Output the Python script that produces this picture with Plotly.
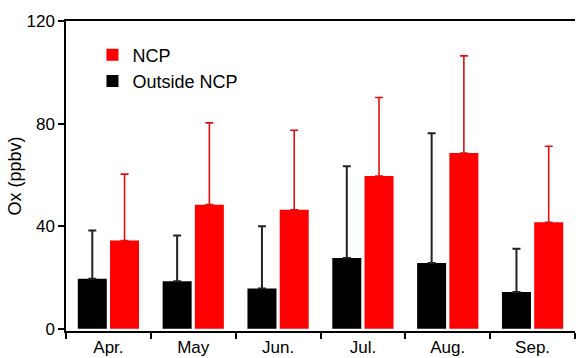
import plotly.graph_objects as go

months = ["Apr.", "May", "Jun.", "Jul.", "Aug.", "Sep."]
outside_mean = [19.5, 18.5, 15.7, 27.6, 25.7, 14.4]
outside_upper = [38.3, 36.4, 40.0, 63.4, 76.2, 31.2]
ncp_mean = [34.4, 48.4, 46.4, 59.6, 68.5, 41.5]
ncp_upper = [60.3, 80.3, 77.4, 90.2, 106.4, 71.2]

outside_err = [u - m for u, m in zip(outside_upper, outside_mean)]
ncp_err = [u - m for u, m in zip(ncp_upper, ncp_mean)]

FONT = "Arial, Liberation Sans, sans-serif"

fig = go.Figure()
fig.add_trace(go.Bar(
    x=months, y=outside_mean, name="Outside NCP",
    marker=dict(color="#000000", line=dict(width=0)),
    error_y=dict(type="data", symmetric=False, array=outside_err,
                 arrayminus=[0] * len(months), color="#222222",
                 thickness=2, width=4),
))
fig.add_trace(go.Bar(
    x=months, y=ncp_mean, name="NCP",
    marker=dict(color="#FF0000", line=dict(width=0)),
    error_y=dict(type="data", symmetric=False, array=ncp_err,
                 arrayminus=[0] * len(months), color="#E01010",
                 thickness=1.6, width=4),
))

fig.update_layout(
    width=576, height=358,
    margin=dict(l=66, r=1, t=21, b=25),
    paper_bgcolor="white", plot_bgcolor="white",
    barmode="group", bargap=0.24, bargroupgap=0.1,
    font=dict(family=FONT, size=17, color="#000000"),
    legend=dict(
        x=0.052, y=0.95, xanchor="left", yanchor="top",
        traceorder="reversed", bgcolor="rgba(0,0,0,0)",
        font=dict(family=FONT, size=18, color="#000000"),
        tracegroupgap=0, itemwidth=30,
    ),
    xaxis=dict(
        type="category", range=[-0.5, 5.5],
        showline=True, linecolor="#000000", linewidth=1.5, mirror=True,
        ticks="outside", tickson="boundaries", ticklen=6, tickwidth=1.5,
        tickcolor="#000000", showgrid=False, zeroline=False,
        tickfont=dict(family=FONT, size=17),
    ),
    yaxis=dict(
        range=[-0.85, 120], tickvals=[0, 40, 80, 120],
        showline=True, linecolor="#000000", linewidth=1.5,
        ticks="outside", ticklen=6, tickwidth=1.5, tickcolor="#000000",
        showgrid=False, zeroline=False,
        tickfont=dict(family=FONT, size=17),
        title=dict(text="Ox (ppbv)", font=dict(family=FONT, size=18), standoff=0),
    ),
)

fig.write_html("out.html")
